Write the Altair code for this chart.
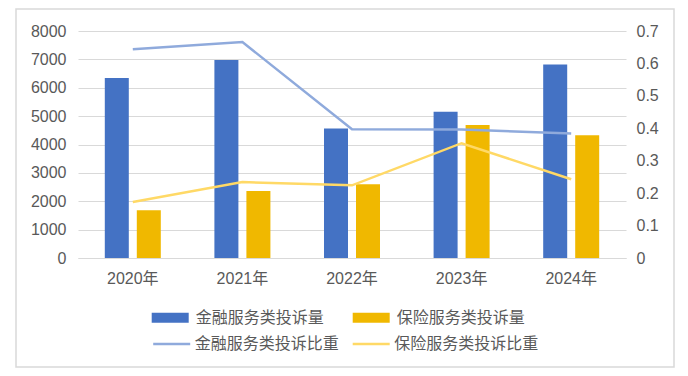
import altair as alt
import pandas as pd

years = ["2020年", "2021年", "2022年", "2023年", "2024年"]
fin_count = [6340, 6980, 4560, 5150, 6820]
ins_count = [1680, 2360, 2600, 4690, 4330]
fin_ratio = [0.644, 0.666, 0.397, 0.396, 0.384]
ins_ratio = [0.173, 0.234, 0.224, 0.354, 0.243]
bar_series = ["金融服务类投诉量", "保险服务类投诉量"]
line_series = ["金融服务类投诉比重", "保险服务类投诉比重"]
left_ticks = [0, 1000, 2000, 3000, 4000, 5000, 6000, 7000, 8000]
right_ticks = [0, 0.1, 0.2, 0.3, 0.4, 0.5, 0.6, 0.7]

bar_df = pd.DataFrame({
    "year": years * 2,
    "series": [bar_series[0]] * 5 + [bar_series[1]] * 5,
    "value": fin_count + ins_count,
})
line_df = pd.DataFrame({
    "year": years * 2,
    "series": [line_series[0]] * 5 + [line_series[1]] * 5,
    "ratio": fin_ratio + ins_ratio,
})

FONT = "Liberation Sans, Noto Sans CJK SC, sans-serif"
TXT = "#595959"

x_enc = alt.X(
    "year:N", sort=years,
    scale=alt.Scale(paddingInner=0.489, paddingOuter=0.2445),
    axis=alt.Axis(title=None, labelAngle=0, domain=True, domainColor="#d9d9d9",
                  ticks=False, labelPadding=12, labelFontSize=16, labelColor=TXT),
)

frame = alt.Chart(pd.DataFrame({"a": [0]})).mark_rect(
    fill="transparent", stroke="#d9d9d9", strokeWidth=1.5
).encode(
    x=alt.value(-62), x2=alt.value(596), y=alt.value(-22), y2=alt.value(336)
)

bars = alt.Chart(bar_df).mark_bar().encode(
    x=x_enc,
    xOffset=alt.XOffset("series:N", sort=bar_series,
                        scale=alt.Scale(paddingInner=0.25, paddingOuter=0)),
    y=alt.Y("value:Q", scale=alt.Scale(domain=[0, 8000], nice=False),
            axis=alt.Axis(values=left_ticks, title=None, grid=True, gridColor="#d9d9d9",
                          domain=False, ticks=False, labelPadding=12, format="d",
                          labelFontSize=16, labelColor=TXT)),
    color=alt.Color("series:N",
                    scale=alt.Scale(domain=bar_series, range=["#4472C4", "#F0B800"]),
                    legend=alt.Legend(orient="none", legendX=73.7, legendY=268,
                                      columns=2, direction="horizontal", title=None,
                                      symbolType="M-1,-0.27H1V0.27H-1Z", symbolSize=1369,
                                      symbolStrokeWidth=0, symbolOpacity=1,
                                      labelFontSize=16, labelColor=TXT, labelOffset=7,
                                      columnPadding=28, padding=0)),
)

lines = alt.Chart(line_df).mark_line(strokeWidth=2.5).encode(
    x=x_enc,
    y=alt.Y("ratio:Q", scale=alt.Scale(domain=[0, 0.7], nice=False),
            axis=alt.Axis(orient="right", values=right_ticks, title=None, grid=False,
                          domain=False, ticks=False, labelPadding=10, format="~g",
                          labelFontSize=16, labelColor=TXT)),
    stroke=alt.Stroke("series:N",
                      scale=alt.Scale(domain=line_series, range=["#8FAADC", "#FFD966"]),
                      legend=alt.Legend(orient="none", legendX=73.7, legendY=293,
                                        columns=2, direction="horizontal", title=None,
                                        symbolType="stroke", symbolSize=1369,
                                        symbolStrokeWidth=2.5,
                                        labelFontSize=16, labelColor=TXT, labelOffset=3,
                                        columnPadding=7.5, padding=0)),
)

chart = alt.layer(frame, bars, lines).resolve_scale(
    y="independent", color="independent", stroke="independent"
).properties(
    width=548, height=227,
    autosize=alt.AutoSizeParams(type="none"),
    padding={"left": 70, "top": 23, "right": 54, "bottom": 110},
).configure(
    font=FONT,
).configure_view(stroke=None).configure_axis(labelFont=FONT).configure_legend(labelFont=FONT)

chart.save("out.html", embed_options={"renderer": "svg", "actions": False})
